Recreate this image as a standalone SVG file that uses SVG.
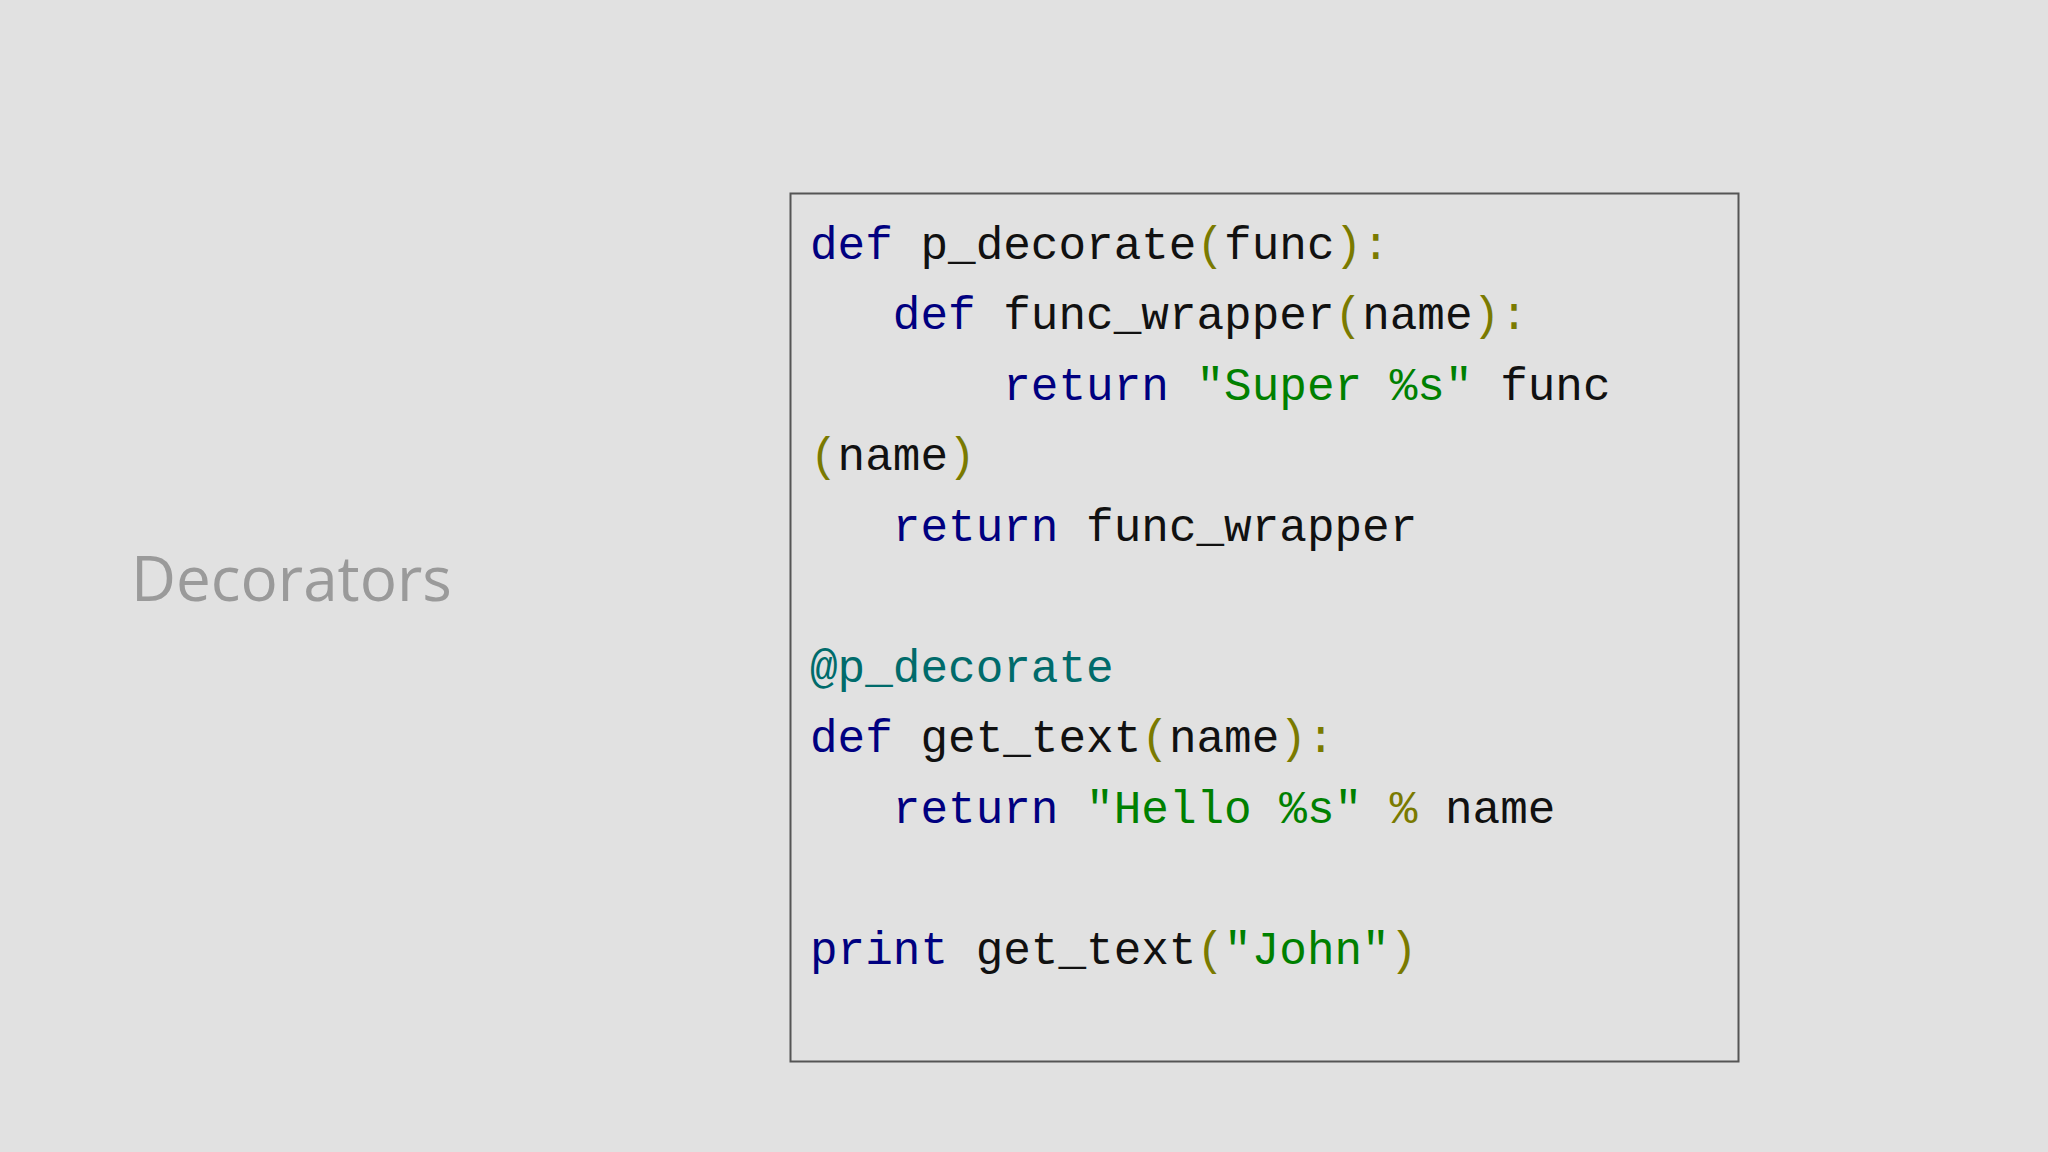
<svg xmlns="http://www.w3.org/2000/svg" width="2048" height="1152" viewBox="0 0 2048 1152">
<style>
.c{font-family:"Liberation Mono","DejaVu Sans Mono",monospace;font-size:46px;fill:#111;white-space:pre}
.k{fill:#000080}.s{fill:#008000}.p{fill:#7a7a00}.d{fill:#006b6b}
</style>
<rect width="2048" height="1152" fill="#e1e1e1"/>
<g id="title"><text x="131" y="601" font-family="Open Sans,Liberation Sans,sans-serif" font-size="62" fill="#9a9a9a">Decorators</text></g>
<g id="code">
<rect x="790.5" y="193.5" width="948" height="868" fill="none" stroke="#555" stroke-width="2"/>
<text class="c" x="810" y="259" xml:space="preserve"><tspan class="k">def</tspan> p_decorate<tspan class="p">(</tspan>func<tspan class="p">):</tspan></text>
<text class="c" x="810" y="329" xml:space="preserve">   <tspan class="k">def</tspan> func_wrapper<tspan class="p">(</tspan>name<tspan class="p">):</tspan></text>
<text class="c" x="810" y="400" xml:space="preserve">       <tspan class="k">return</tspan> <tspan class="s">"Super %s"</tspan> func</text>
<text class="c" x="810" y="470" xml:space="preserve"><tspan class="p">(</tspan>name<tspan class="p">)</tspan></text>
<text class="c" x="810" y="541" xml:space="preserve">   <tspan class="k">return</tspan> func_wrapper</text>
<text class="c d" x="810" y="682" xml:space="preserve">@p_decorate</text>
<text class="c" x="810" y="752" xml:space="preserve"><tspan class="k">def</tspan> get_text<tspan class="p">(</tspan>name<tspan class="p">):</tspan></text>
<text class="c" x="810" y="823" xml:space="preserve">   <tspan class="k">return</tspan> <tspan class="s">"Hello %s"</tspan> <tspan class="p">%</tspan> name</text>
<text class="c" x="810" y="964" xml:space="preserve"><tspan class="k">print</tspan> get_text<tspan class="p">(</tspan><tspan class="s">"John"</tspan><tspan class="p">)</tspan></text>
</g>
</svg>
